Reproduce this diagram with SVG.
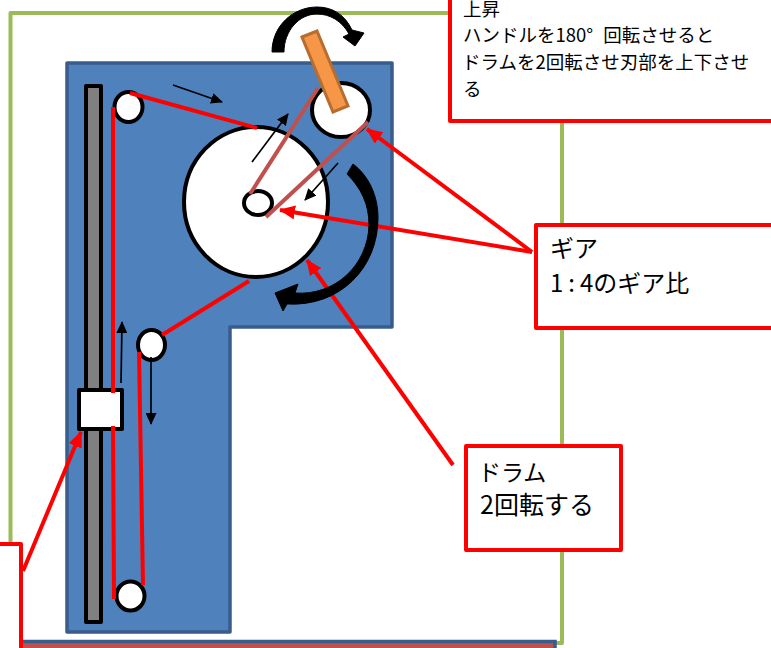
<svg xmlns="http://www.w3.org/2000/svg" width="771" height="648" viewBox="0 0 771 648">
<defs>
<marker id="red" markerUnits="userSpaceOnUse" markerWidth="16" markerHeight="14" refX="15" refY="7" orient="auto"><path d="M0 0L16 7L0 14Z" fill="#f00"/></marker>
<marker id="blk" markerUnits="userSpaceOnUse" markerWidth="12" markerHeight="11" refX="11" refY="5.5" orient="auto"><path d="M0 0L12 5.500L0 11Z" fill="#000"/></marker>
</defs>
<style>
.w{fill:#fff;stroke:#000;stroke-width:4}
.r{fill:none;stroke:#f00;stroke-width:4}
.ra{fill:none;stroke:#f00;stroke-width:4;marker-end:url(#red)}
.k{fill:none;stroke:#000;stroke-width:1.700;marker-end:url(#blk)}
.b{fill:none;stroke:#C0504D;stroke-width:4}
.box{fill:#fff;stroke:#f00;stroke-width:4;stroke-linejoin:round}
text{font-family:"Noto Sans CJK JP","Noto Sans",sans-serif;fill:#000}
.t1{font-size:18.500px}
.t2{font-size:24px}
</style>
<rect id="frame" x="10.500" y="13" width="551.500" height="630" fill="#fff" stroke="#9BBB59" stroke-width="4" stroke-linejoin="round"/>
<rect id="bottom-bar" x="21" y="641.500" width="534" height="12" fill="#C0504D" stroke="#385D8A" stroke-width="3.500"/>
<path id="plate" d="M67 63H392V327H230V632H67Z" fill="#4F81BD" stroke="#385D8A" stroke-width="3.500" stroke-linejoin="round"/>
<g id="rail"><rect x="86" y="86" width="15" height="536" fill="#808080" stroke="#000" stroke-width="4" stroke-linejoin="round"/></g>
<g id="drum"><ellipse class="w" cx="256" cy="202" rx="72" ry="75"/></g>
<g id="gear"><ellipse class="w" cx="341" cy="110" rx="29" ry="27"/></g>
<g id="shaft"><ellipse class="w" cx="258" cy="203" rx="14" ry="12"/></g>
<g id="pulley-top"><ellipse class="w" cx="128.500" cy="107" rx="14" ry="15"/></g>
<g id="pulley-mid"><ellipse class="w" cx="151.500" cy="345" rx="13.500" ry="15"/></g>
<g id="pulley-bottom"><ellipse class="w" cx="130.500" cy="596" rx="14" ry="14.500"/></g>
<g id="slider"><rect x="79" y="390" width="43" height="39" fill="#fff" stroke="#000" stroke-width="4" stroke-linejoin="round"/></g>
<g id="connectors">
<path class="b" d="M318 88L250 194"/>
<path class="b" d="M368 122L266 217"/>
<path class="r" d="M113 107V393"/>
<path class="r" d="M113 426L114 599"/>
<path class="r" d="M130 93L257 128"/>
<path class="r" d="M249 281L162 335"/>
<path class="r" d="M139 352L143 585"/>
<path class="k" d="M252 162L288 114"/>
<path class="k" d="M338 163L305 200"/>
<path class="k" d="M173 85L222 102"/>
<path class="k" d="M121 383L122 322"/>
<path class="k" d="M151 357V424"/>
<path class="ra" d="M532 252L367 129"/>
<path class="ra" d="M532 252L280 210"/>
<path class="ra" d="M453 465L307 260"/>
<path class="ra" d="M23 571L81 432"/>
</g>
<path id="rot-top" d="M272 52C272 26 293 7 317 7C333 7 345 15 352 30L364 33L355 46L343 37L349 34C342 21 330 14 317 14C299 14 284 31 284 52Z" fill="#000" stroke="#000" stroke-linejoin="round"/>
<path id="rot-bottom" d="M353 164C369 176 378 196 378 218C378 268 340 307 287 304L283 311L275 293L298 284L295 293C335 296 368 265 369 225C369 204 361 188 347 174Z" fill="#000" stroke="#000" stroke-linejoin="round"/>
<g id="handle"><path d="M302 37L317 31L348 106L333 112Z" fill="#F79646" stroke="#B66D31" stroke-width="3"/></g>
<g id="box-top"><rect class="box" x="450" y="-20" width="340" height="141"/>
<text class="t1" x="463" y="16">上昇</text>
<text class="t1" x="463" y="42">ハンドルを180°<tspan dx="10">回転させると</tspan></text>
<text class="t1" x="462" y="69">ドラムを2回転させ刃部を上下させ</text>
<text class="t1" x="463" y="96">る</text></g>
<g id="box-gear"><rect class="box" x="536" y="225" width="260" height="103"/>
<text class="t2" x="550" y="257">ギア</text>
<text class="t2" x="550" y="292">1<tspan dx="5">:</tspan><tspan dx="5">4のギア比</tspan></text></g>
<g id="box-drum"><rect class="box" x="466" y="446" width="155" height="104"/>
<text class="t2" x="478" y="481" style="font-size:23px">ドラム</text>
<text class="t2" x="480" y="514" style="font-size:25px">2回転する</text></g>
<g id="box-left"><rect class="box" x="-20" y="544" width="41" height="130"/></g>
</svg>
